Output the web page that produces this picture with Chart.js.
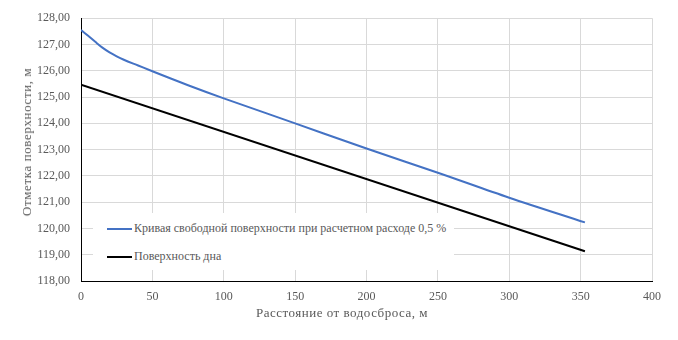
<!DOCTYPE html>
<html>
<head>
<meta charset="utf-8">
<script src="https://cdn.jsdelivr.net/npm/chart.js@4.4.1/dist/chart.umd.min.js"></script>
<style>
  body { margin: 0; background: #fff; }
  .wrap { position: relative; width: 678px; height: 340px; font-family: "Liberation Serif", serif; color: #595959; }
  .legend { position: absolute; left: 93px; top: 213px; width: 361px; height: 57px; background: #fff; font-size: 12px; }
  .legend div { position: absolute; left: 14px; height: 16px; line-height: 16px; white-space: nowrap; }
  .legend span { display: inline-block; width: 25px; height: 2px; vertical-align: middle; margin-right: 2px; }
  .title { position: absolute; font-size: 13px; letter-spacing: 0.5px; white-space: nowrap; line-height: 16px; }
  #xTitle { left: 342px; top: 305px; transform: translateX(-50%); }
  #yTitle { left: 27px; top: 142px; transform: translate(-50%, -50%) rotate(-90deg); letter-spacing: 0.6px; }
</style>
</head>
<body>
<div class="wrap">
  <canvas id="chart" width="678" height="340"></canvas>
  <div class="legend" id="legend"></div>
  <div class="title" id="xTitle"></div>
  <div class="title" id="yTitle"></div>
</div>
<script>
const distance = [0, 5, 10, 15, 20, 25, 30, 40, 50, 75, 100, 150, 200, 250, 300, 353];
const freeSurface = [127.55, 127.33, 127.1, 126.88, 126.7, 126.55, 126.42, 126.2, 125.98, 125.45, 124.95, 124.0, 123.04, 122.12, 121.17, 120.23];
const bottomX = [0, 353];
const bottomY = [125.47, 119.13];
const xTicks = [0, 50, 100, 150, 200, 250, 300, 350, 400];
const yTicks = [118, 119, 120, 121, 122, 123, 124, 125, 126, 127, 128];

const seriesNames = ["Кривая свободной поверхности при расчетном расходе 0,5 %", "Поверхность дна"];
const colors = ["#4472c4", "#000000"];
const xTitle = "Расстояние от водосброса, м";
const yTitle = "Отметка поверхности, м";

const font = { family: "Liberation Serif", size: 12 };
const grey = "#595959";

const ctx = document.getElementById("chart");
new Chart(ctx, {
    type: "line",
    data: {
        datasets: [
            {
                label: seriesNames[0],
                data: distance.map((x, i) => ({ x: x, y: freeSurface[i] })),
                borderColor: colors[0],
                borderWidth: 2,
                pointRadius: 0,
                cubicInterpolationMode: "monotone"
            },
            {
                label: seriesNames[1],
                data: bottomX.map((x, i) => ({ x: x, y: bottomY[i] })),
                borderColor: colors[1],
                borderWidth: 2,
                pointRadius: 0
            }
        ]
    },
    options: {
        responsive: false,
        animation: false,
        layout: { padding: { left: 0, right: 26, top: 16, bottom: 0 } },
        plugins: { legend: { display: false }, tooltip: { enabled: false } },
        scales: {
            x: {
                type: "linear",
                min: 0, max: 400,
                afterBuildTicks: (s) => { s.ticks = xTicks.map(v => ({ value: v })); },
                afterFit: (s) => { s.height = 59; },
                grid: { color: "#d9d9d9", drawTicks: false },
                border: { color: "#000", width: 1 },
                ticks: { font: font, color: grey, padding: 9, maxRotation: 0 }
            },
            y: {
                min: 118, max: 128,
                afterBuildTicks: (s) => { s.ticks = yTicks.map(v => ({ value: v })); },
                afterFit: (s) => { s.width = 81; },
                grid: { color: "#d9d9d9", drawTicks: false },
                border: { color: "#000", width: 1 },
                ticks: {
                    font: font, color: grey, padding: 11,
                    callback: (v) => v.toFixed(2).replace(".", ",")
                }
            }
        }
    }
});

document.getElementById("xTitle").textContent = xTitle;
document.getElementById("yTitle").textContent = yTitle;

const legend = document.getElementById("legend");
seriesNames.forEach((name, i) => {
    const row = document.createElement("div");
    row.style.top = (7 + i * 28) + "px";
    row.innerHTML = `<span style="background:${colors[i]}"></span>${name}`;
    legend.appendChild(row);
});
</script>
</body>
</html>
